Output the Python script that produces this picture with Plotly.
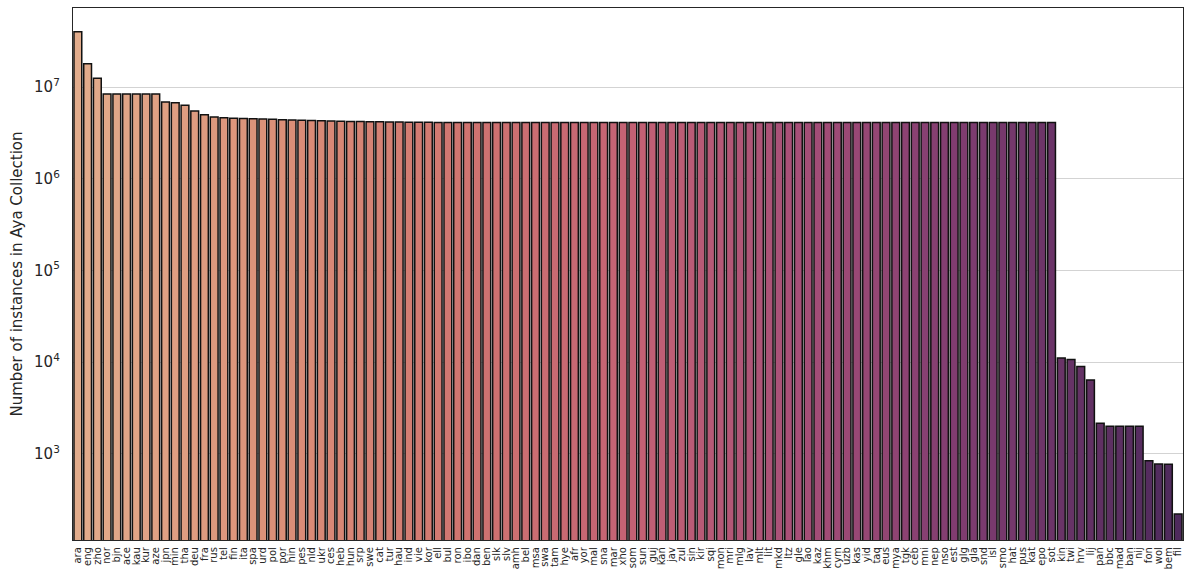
import plotly.graph_objects as go

# Language codes, ordered by number of instances
languages = [
    "ara", "eng", "zho", "nor", "bjn", "ace", "kau", "kur", "aze", "jpn",
    "min", "tha", "deu", "fra", "rus", "tel", "fin", "ita", "spa", "urd",
    "pol", "por", "hin", "pes", "nld", "ukr", "ces", "heb", "hun", "srp",
    "swe", "cat", "tur", "hau", "ind", "vie", "kor", "ell", "bul", "ron",
    "ibo", "dan", "ben", "slk", "slv", "amh", "bel", "msa", "swa", "tam",
    "hye", "afr", "yor", "mal", "sna", "mar", "xho", "som", "sun", "guj",
    "kan", "jav", "zul", "sin", "kir", "sqi", "mon", "mri", "mlg", "lav",
    "mlt", "lit", "mkd", "ltz", "gle", "lao", "kaz", "khm", "cym", "uzb",
    "kas", "yid", "taq", "eus", "mya", "tgk", "ceb", "mni", "nep", "nso",
    "est", "glg", "gla", "snd", "isl", "smo", "hat", "pus", "kat", "epo",
    "sot", "kin", "twi", "hrv", "lij", "pan", "bbc", "mad", "ban", "nij",
    "fon", "wol", "bem", "fil",
]

head_counts = [
    4.0e7, 1.79e7, 1.25e7, 8.4e6, 8.4e6, 8.4e6, 8.4e6, 8.4e6, 8.4e6, 6.86e6,
    6.74e6, 6.31e6, 5.47e6, 4.99e6, 4.72e6, 4.62e6, 4.58e6, 4.54e6, 4.50e6, 4.47e6,
    4.44e6, 4.41e6, 4.37e6, 4.34e6, 4.31e6, 4.28e6, 4.26e6, 4.24e6, 4.22e6, 4.20e6,
    4.18e6, 4.17e6, 4.16e6, 4.15e6, 4.14e6, 4.13e6, 4.12e6,
]
plateau_counts = [4.1e6] * 64
tail_counts = [
    1.11e4, 1.07e4, 9.0e3, 6.4e3, 2.16e3, 2.0e3, 2.0e3, 2.0e3, 2.0e3,
    845, 778, 770, 222,
]
counts = head_counts + plateau_counts + tail_counts

y_tick_vals = [1e3, 1e4, 1e5, 1e6, 1e7]
y_tick_text = ["10<sup>3</sup>", "10<sup>4</sup>", "10<sup>5</sup>",
               "10<sup>6</sup>", "10<sup>7</sup>"]

# Peach -> salmon -> rose -> plum gradient (muted)
anchors = [
    (0.00, (226, 172, 140)),
    (0.18, (219, 144, 120)),
    (0.35, (208, 117, 112)),
    (0.50, (196, 98, 116)),
    (0.65, (168, 80, 120)),
    (0.80, (128, 60, 112)),
    (1.00, (78, 42, 92)),
]


def gradient(t):
    for (t0, c0), (t1, c1) in zip(anchors[:-1], anchors[1:]):
        if t <= t1:
            f = (t - t0) / (t1 - t0)
            r, g, b = (round(a + (b_ - a) * f) for a, b_ in zip(c0, c1))
            return f"rgb({r},{g},{b})"
    r, g, b = anchors[-1][1]
    return f"rgb({r},{g},{b})"


n = len(languages)
colors = [gradient(i / (n - 1)) for i in range(n)]

fig = go.Figure(
    go.Bar(
        x=languages,
        y=counts,
        marker=dict(color=colors, line=dict(color="#111111", width=1.5)),
        hoverinfo="x+y",
    )
)

fig.update_layout(
    width=1184,
    height=579,
    margin=dict(l=73, r=1, t=8, b=39),
    paper_bgcolor="white",
    plot_bgcolor="white",
    bargap=0.2,
    showlegend=False,
    font=dict(family="DejaVu Sans", color="#262626"),
)

fig.update_xaxes(
    type="category",
    range=[-0.5, n - 0.5],
    tickmode="linear",
    tick0=0,
    dtick=1,
    tickangle=-90,
    tickfont=dict(size=10, color="#262626"),
    showgrid=False,
    showline=True,
    mirror=True,
    linecolor="#262626",
    linewidth=1.3,
    ticks="",
    ticklabelstandoff=2,
)

fig.update_yaxes(
    type="log",
    range=[2.062, 7.8615],
    tickvals=y_tick_vals,
    ticktext=y_tick_text,
    tickfont=dict(size=15, color="#262626"),
    showgrid=True,
    gridcolor="#d3d3d3",
    gridwidth=1.2,
    showline=True,
    mirror=True,
    linecolor="#262626",
    linewidth=1.3,
    ticks="",
    ticklabelstandoff=9,
    zeroline=False,
    title=dict(
        text="Number of instances in Aya Collection",
        font=dict(size=15, color="#262626"),
        standoff=7,
    ),
)

fig.write_html("out.html")
